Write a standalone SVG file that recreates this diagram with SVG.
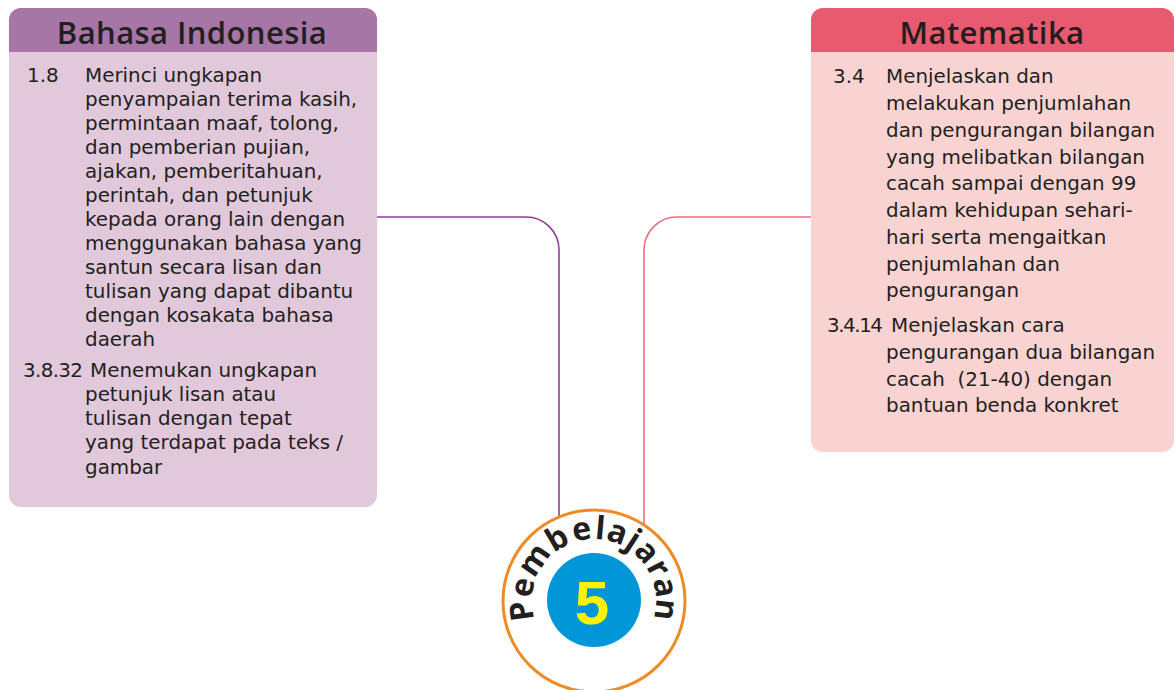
<svg xmlns="http://www.w3.org/2000/svg" width="1174" height="690" viewBox="0 0 1174 690">
  <defs>
    <style>
      .head { font-family: "Open Sans", "Noto Sans", sans-serif; font-size: 31px; font-weight: 600; fill: #231f20; text-anchor: middle; letter-spacing: 0.4px; }
      .body { font-family: "DejaVu Sans", "Noto Sans", sans-serif; font-size: 19.9px; fill: #231f20; }
      .link { fill: none; stroke-width: 1.6; }
      .arc { font-family: "Open Sans", "Noto Sans", sans-serif; font-size: 32px; font-weight: bold; fill: #231f20; text-anchor: middle; }
    </style>
  </defs>

  <!-- connectors -->
  <g id="connectors">
    <path class="link" stroke="#8e3f93" d="M 377 217 H 526 A 33 33 0 0 1 559 250 V 530"/>
    <path class="link" stroke="#ee6c80" d="M 811 217 H 677 A 33 33 0 0 0 644 250 V 530"/>
  </g>

  <!-- Bahasa Indonesia -->
  <g id="bahasa-indonesia">
    <rect x="9" y="8" width="368" height="499" rx="12" fill="#e1c8da"/>
    <path d="M 9 52 V 20 A 12 12 0 0 1 21 8 H 365 A 12 12 0 0 1 377 20 V 52 Z" fill="#a576a6"/>
    <text class="head" x="192" y="44">Bahasa Indonesia</text>
    <text class="body">
      <tspan x="27" y="82">1.8</tspan>
      <tspan x="85" y="82">Merinci ungkapan</tspan>
      <tspan x="85" y="106">penyampaian terima kasih,</tspan>
      <tspan x="85" y="130">permintaan maaf, tolong,</tspan>
      <tspan x="85" y="154">dan pemberian pujian,</tspan>
      <tspan x="85" y="178">ajakan, pemberitahuan,</tspan>
      <tspan x="85" y="202">perintah, dan petunjuk</tspan>
      <tspan x="85" y="226">kepada orang lain dengan</tspan>
      <tspan x="85" y="250">menggunakan bahasa yang</tspan>
      <tspan x="85" y="274">santun secara lisan dan</tspan>
      <tspan x="85" y="298">tulisan yang dapat dibantu</tspan>
      <tspan x="85" y="322">dengan kosakata bahasa</tspan>
      <tspan x="85" y="346">daerah</tspan>
      <tspan x="23" y="377" textLength="60">3.8.32</tspan>
      <tspan x="90" y="377">Menemukan ungkapan</tspan>
      <tspan x="85" y="401">petunjuk lisan atau</tspan>
      <tspan x="85" y="425">tulisan dengan tepat</tspan>
      <tspan x="85" y="449">yang terdapat pada teks /</tspan>
      <tspan x="85" y="474">gambar</tspan>
    </text>
  </g>

  <!-- Matematika -->
  <g id="matematika">
    <rect x="811" y="8" width="363" height="444" rx="12" fill="#f8d3d2"/>
    <path d="M 811 52 V 20 A 12 12 0 0 1 823 8 H 1162 A 12 12 0 0 1 1174 20 V 52 Z" fill="#e85a6f"/>
    <text class="head" x="992" y="44">Matematika</text>
    <text class="body">
      <tspan x="833" y="83">3.4</tspan>
      <tspan x="886" y="83">Menjelaskan dan</tspan>
      <tspan x="886" y="110">melakukan penjumlahan</tspan>
      <tspan x="886" y="137">dan pengurangan bilangan</tspan>
      <tspan x="886" y="164">yang melibatkan bilangan</tspan>
      <tspan x="886" y="190">cacah sampai dengan 99</tspan>
      <tspan x="886" y="217">dalam kehidupan sehari-</tspan>
      <tspan x="886" y="244">hari serta mengaitkan</tspan>
      <tspan x="886" y="271">penjumlahan dan</tspan>
      <tspan x="886" y="297">pengurangan</tspan>
      <tspan x="827" y="332" textLength="56">3.4.14</tspan>
      <tspan x="891" y="332">Menjelaskan cara</tspan>
      <tspan x="886" y="359">pengurangan dua bilangan</tspan>
      <tspan x="886" y="386">cacah&#160; (21-40) dengan</tspan>
      <tspan x="886" y="412">bantuan benda konkret</tspan>
    </text>
  </g>

  <!-- Pembelajaran 5: letters set around a circle of radius 62 -->
  <g id="pembelajaran-5">
    <circle cx="594" cy="601" r="91" fill="#ffffff" stroke="#f08a24" stroke-width="3"/>
    <circle cx="594" cy="600" r="47" fill="#0096d8"/>
    <text x="592" y="624" font-family="Liberation Sans, Arial, sans-serif" font-size="62" font-weight="bold" fill="#fff200" text-anchor="middle">5</text>
    <g transform="translate(594 601)">
      <text class="arc" transform="rotate(-98) translate(0 -62)">P</text>
      <text class="arc" transform="rotate(-79) translate(0 -62)">e</text>
      <text class="arc" transform="rotate(-55.5) translate(0 -62)">m</text>
      <text class="arc" transform="rotate(-30.5) translate(0 -62)">b</text>
      <text class="arc" transform="rotate(-10) translate(0 -62)">e</text>
      <text class="arc" transform="rotate(5) translate(0 -62)">l</text>
      <text class="arc" transform="rotate(19) translate(0 -62)">a</text>
      <text class="arc" transform="rotate(33) translate(0 -62)">j</text>
      <text class="arc" transform="rotate(47) translate(0 -62)">a</text>
      <text class="arc" transform="rotate(63) translate(0 -62)">r</text>
      <text class="arc" transform="rotate(79) translate(0 -62)">a</text>
      <text class="arc" transform="rotate(97) translate(0 -62)">n</text>
    </g>
  </g>
</svg>
